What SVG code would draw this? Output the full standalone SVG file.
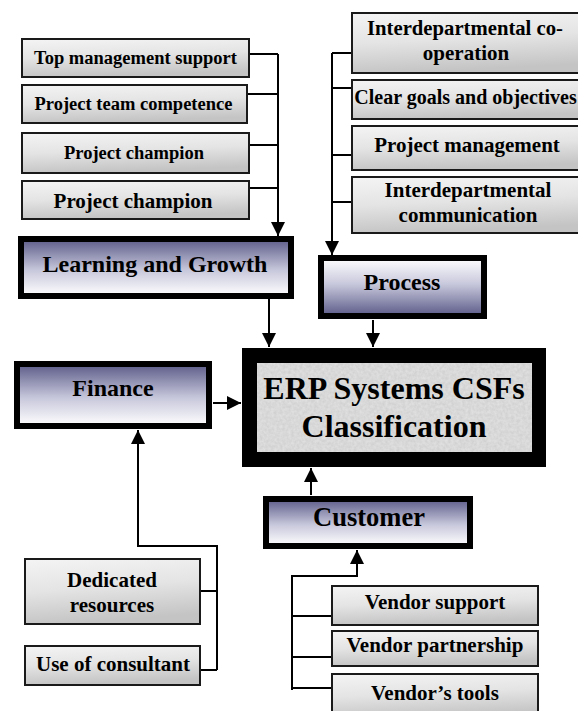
<svg xmlns="http://www.w3.org/2000/svg" width="578" height="711" viewBox="0 0 578 711">
<style>
text{font-weight:bold;fill:#000;text-anchor:middle}
.s{font-size:18.5px}
.m{font-size:21px}
.l{font-size:24px}
.b{font-size:32px}
.gb{fill:url(#gray);stroke:#1a1a1a;stroke-width:2}
.bd{fill:url(#blueDown);stroke:#000;stroke-width:6}
.bu{fill:url(#blueUp);stroke:#000;stroke-width:6}
.ln{fill:none;stroke:#000;stroke-width:2}
</style>
<defs>
<linearGradient id="gray" x1="0" y1="0" x2="0.2" y2="1">
<stop offset="0" stop-color="#f4f4f4"/><stop offset="0.5" stop-color="#e4e4e4"/><stop offset="1" stop-color="#c4c4c4"/>
</linearGradient>
<linearGradient id="blueDown" x1="0" y1="0" x2="0" y2="1">
<stop offset="0" stop-color="#5a5a88"/><stop offset="0.55" stop-color="#c8c8dc"/><stop offset="1" stop-color="#ffffff"/>
</linearGradient>
<linearGradient id="blueUp" x1="0" y1="0" x2="0" y2="1">
<stop offset="0" stop-color="#ffffff"/><stop offset="0.45" stop-color="#c8c8dc"/><stop offset="1" stop-color="#5a5a88"/>
</linearGradient>
<filter id="tex" x="0" y="0" width="1" height="1">
<feTurbulence type="fractalNoise" baseFrequency="0.35" numOctaves="2" seed="3"/>
<feColorMatrix type="matrix" values="0 0 0 0 0.8  0 0 0 0 0.8  0 0 0 0 0.8  0 0 0 -1.1 1.1"/>
<feComposite in2="SourceGraphic" operator="in"/>
<feBlend in2="SourceGraphic" mode="multiply"/>
</filter>
<marker id="ahL" viewBox="0 0 10 10" refX="10" refY="5" markerWidth="14" markerHeight="14" markerUnits="userSpaceOnUse" orient="auto">
<path d="M0,0 L10,5 L0,10 z" fill="#000"/>
</marker>
</defs>
<rect width="578" height="711" fill="#fff"/>

<g id="connectors">
<path class="ln" d="M249,54 H278 M247,94 H278 M249,145 H278 M249,188 H278 M278,54 V236" marker-end="url(#ahL)"/>
<path class="ln" d="M352,53 H332 M352,88 H332 M352,155 H332 M352,202 H332 M332,53 V255" marker-end="url(#ahL)"/>
<path class="ln" d="M269,299 V347" marker-end="url(#ahL)"/>
<path class="ln" d="M373,320 V347" marker-end="url(#ahL)"/>
<path class="ln" d="M213,403 H241" marker-end="url(#ahL)"/>
<path class="ln" d="M311,495 V468" marker-end="url(#ahL)"/>
<path class="ln" d="M200,591 H217 M200,670 H217 M217,670 V546 H138 V430" marker-end="url(#ahL)"/>
<path class="ln" d="M332,616 H292 M332,657 H292 M332,688 H292 M292,690 V576 H357 V550" marker-end="url(#ahL)"/>
</g>

<g font-family="'Liberation Serif', 'Times New Roman', 'DejaVu Serif', serif">
<g id="top-management-support"><rect class="gb" x="22" y="39" width="227" height="38"/><text class="s" x="135.5" y="64">Top management support</text></g>
<g id="project-team-competence"><rect class="gb" x="22" y="85" width="225" height="38"/><text class="s" x="133.5" y="110">Project team competence</text></g>
<g id="project-champion-1"><rect class="gb" x="22" y="133" width="227" height="40"/><text class="s" x="134" y="159">Project champion</text></g>
<g id="project-champion-2"><rect class="gb" x="22" y="181" width="227" height="38"/><text class="m" x="133" y="208">Project champion</text></g>

<g id="interdepartmental-cooperation"><rect class="gb" x="352" y="13" width="240" height="60"/><text font-size="20.7" x="465" y="35">Interdepartmental co-</text><text class="m" x="466" y="60">operation</text></g>
<g id="clear-goals"><rect class="gb" x="352" y="80" width="240" height="39"/><text font-size="20" x="465.5" y="104">Clear goals and objectives</text></g>
<g id="project-management"><rect class="gb" x="352" y="126" width="240" height="44"/><text class="m" x="467" y="152">Project management</text></g>
<g id="interdepartmental-communication"><rect class="gb" x="352" y="177" width="240" height="56"/><text class="m" x="468" y="197">Interdepartmental</text><text class="m" x="468" y="222">communication</text></g>

<g id="learning-and-growth"><rect class="bd" x="21" y="239" width="270" height="57"/><text class="l" x="155" y="272">Learning and Growth</text></g>
<g id="process"><rect class="bu" x="321" y="258" width="163" height="58"/><text class="l" x="402" y="290">Process</text></g>
<g id="finance"><rect class="bd" x="17" y="364" width="192" height="62"/><text class="l" x="113" y="396">Finance</text></g>

<g id="erp"><rect x="249.5" y="355.5" width="289" height="104" fill="#000" stroke="#000" stroke-width="15"/><rect x="257" y="363" width="275" height="89" fill="#e4e4e4" filter="url(#tex)"/><text class="b" x="394" y="399">ERP Systems CSFs</text><text class="b" x="394" y="437">Classification</text></g>

<g id="customer"><rect class="bd" x="266" y="499" width="204" height="47"/><text font-size="26.5" x="369" y="526">Customer</text></g>

<g id="dedicated-resources"><rect class="gb" x="25" y="559" width="175" height="65"/><text class="m" x="112" y="587">Dedicated</text><text class="m" x="112" y="612">resources</text></g>
<g id="use-of-consultant"><rect class="gb" x="25" y="646" width="175" height="39"/><text class="m" x="113" y="671">Use of consultant</text></g>

<g id="vendor-support"><rect class="gb" x="332" y="586" width="206" height="39"/><text class="m" x="435" y="609">Vendor support</text></g>
<g id="vendor-partnership"><rect class="gb" x="332" y="631" width="206" height="35"/><text class="m" x="435" y="652">Vendor partnership</text></g>
<g id="vendors-tools"><rect class="gb" x="332" y="674" width="206" height="45"/><text class="m" x="435" y="700">Vendor’s tools</text></g>
</g>
</svg>
